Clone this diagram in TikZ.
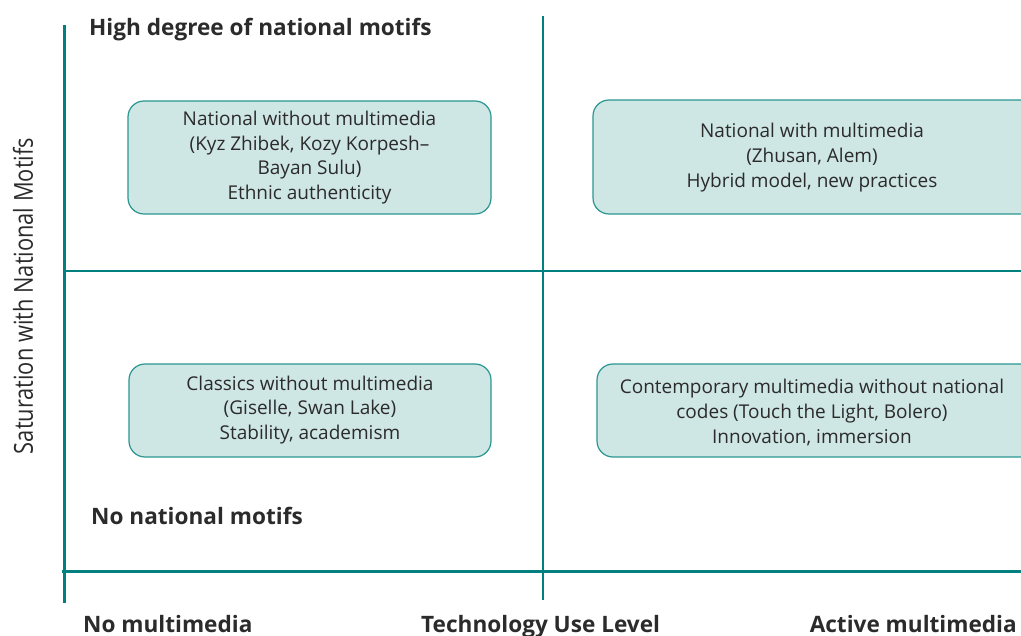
\documentclass[tikz,border=0pt]{standalone}
\usepackage{fontspec}
\setmainfont{Open Sans}
\definecolor{axisteal}{HTML}{00807F}
\definecolor{boxfill}{HTML}{CEE6E4}
\definecolor{boxedge}{HTML}{2A9792}
\definecolor{ink}{HTML}{2B2B2B}
\begin{document}
\begin{tikzpicture}[x=1pt,y=-1pt,
  quad/.style={draw=boxedge, fill=boxfill, line width=1.2pt, rounded corners=16pt},
  quadtext/.style={text=ink, align=center, font=\fontsize{19}{24.7}\selectfont},
  heading/.style={text=ink, font=\fontsize{22.6}{27}\selectfont\bfseries, inner sep=0pt},
  axis/.style={draw=axisteal, line width=3pt},
  divider/.style={draw=axisteal, line width=2pt}]
\useasboundingbox (0,0) rectangle (1021,636);
\clip (0,0) rectangle (1021,636);

% axes and quadrant dividers
\coordinate (ytop) at (64,25);
\coordinate (ybot) at (64,603);
\coordinate (xleft) at (62,571);
\coordinate (xright) at (1021,571);
\coordinate (vtop) at (543,16);
\coordinate (vbot) at (543,600);
\coordinate (hleft) at (64,271);
\coordinate (hright) at (1021,271);
\draw[divider] (hleft) -- (hright);
\draw[divider] (vtop) -- (vbot);
\draw[axis] (ytop) -- (ybot);
\draw[axis] (xleft) -- (xright);

% quadrant boxes
\draw[quad] (128,101) rectangle (491,214);
\draw[quad] (593,100) rectangle (1040,214);
\draw[quad] (129,364) rectangle (491,457);
\draw[quad] (597,364) rectangle (1040,457);

\node[quadtext] (tl) at (309.5,157.5) {National without multimedia\\(Kyz Zhibek, Kozy Korpesh--\\Bayan Sulu)\\Ethnic authenticity};
\node[quadtext] (tr) at (812,157.5) {National with multimedia\\(Zhusan, Alem)\\Hybrid model, new practices};
\node[quadtext] (bl) at (310,410) {Classics without multimedia\\(Giselle, Swan Lake)\\Stability, academism};
\node[quadtext] (br) at (812,412.5) {Contemporary multimedia without national\\codes (Touch the Light, Bolero)\\Innovation, immersion};

% axis captions
\node[heading, anchor=base west] (high) at (89,36) {High degree of national motifs};
\node[heading, anchor=base west] (none) at (91,524) {No national motifs};
\node[heading, anchor=base west] (nomm) at (83,632) {No multimedia};
\node[heading, anchor=base west] (tech) at (421,632) {Technology Use Level};
\node[heading, anchor=base east] (act) at (1017,632) {Active multimedia};
\node[text=ink, inner sep=0pt, rotate=90] (ylab) at (23,296)
  {\resizebox{316pt}{20pt}{Saturation with National Motifs}};
\end{tikzpicture}
\end{document}
